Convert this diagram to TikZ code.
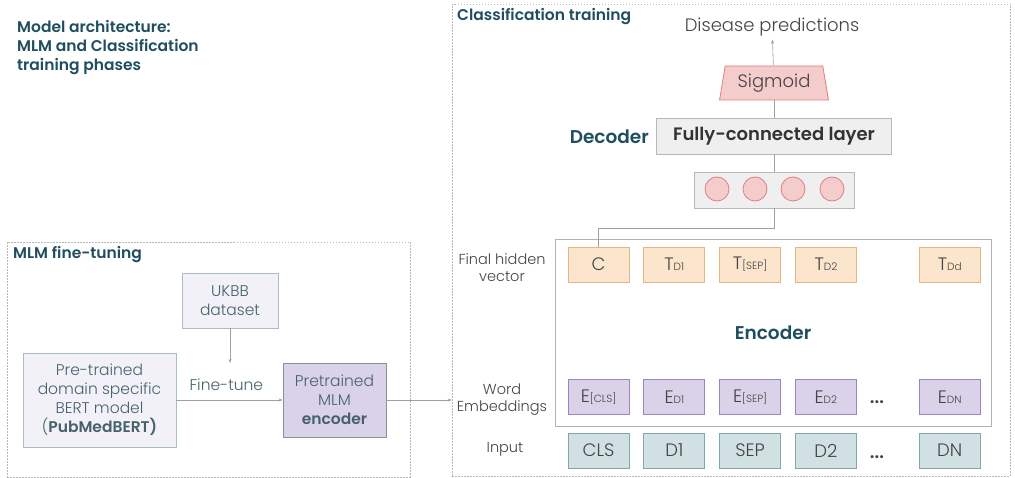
\documentclass[tikz,border=0pt]{standalone}
\usepackage{fontspec}
\setmainfont{Poppins}[UprightFont={Poppins Light}, BoldFont={Poppins SemiBold}]
\usetikzlibrary{arrows.meta, positioning, shapes.geometric}

\definecolor{titleteal}{HTML}{1F4E5F}
\definecolor{txtgray}{HTML}{434343}
\definecolor{slatetxt}{HTML}{46616C}
\definecolor{lavfill}{HTML}{F3F1F8}
\definecolor{lavdraw}{HTML}{A9BCC6}
\definecolor{encfill}{HTML}{D9D2E9}
\definecolor{encdraw}{HTML}{8E8E9C}
\definecolor{hidfill}{HTML}{FCE5CD}
\definecolor{hiddraw}{HTML}{E5B583}
\definecolor{embdraw}{HTML}{9A86C6}
\definecolor{inpfill}{HTML}{D0E0E3}
\definecolor{inpdraw}{HTML}{7FA8B0}
\definecolor{pinkfill}{HTML}{F4CCCC}
\definecolor{pinkdraw}{HTML}{E07F7F}
\definecolor{greyfill}{HTML}{EFEFEF}
\definecolor{greydraw}{HTML}{B7B7B7}

\newcommand{\fsz}[2]{\fontsize{#1}{#2}\selectfont}
\newcommand{\lowtag}[1]{{\fontsize{10.5}{10.5}\selectfont #1}}

\begin{document}
\begin{tikzpicture}[x=1pt, y=-1pt, >={Stealth[length=4pt, width=3pt]},
    every node/.style={text=txtgray},
    phase/.style={draw=gray!55, dash pattern=on 1.5pt off 1.5pt, line width=0.6pt, inner sep=0pt},
    link/.style={draw=gray!75, line width=0.6pt},
    heading/.style={font=\fsz{15.5}{19}\bfseries, text=titleteal, inner sep=0pt},
    plainbox/.style={draw=lavdraw, fill=lavfill, line width=0.8pt, align=center, text=slatetxt, inner sep=0pt},
    tokbox/.style={minimum width=61pt, minimum height=35pt, inner sep=0pt, line width=0.8pt, font=\fsz{18}{20}},
    hidtok/.style={tokbox, fill=hidfill, draw=hiddraw},
    embtok/.style={tokbox, fill=encfill, draw=embdraw},
    inptok/.style={tokbox, fill=inpfill, draw=inpdraw},
    unit/.style={circle, minimum size=24pt, inner sep=0pt, fill=pinkfill, draw=pinkdraw, line width=0.8pt},
    sidelabel/.style={align=center, font=\fsz{14.5}{17}}
]

    % canvas
    \useasboundingbox (0,0) rectangle (1015,478);

    % ==========================================
    % Title
    % ==========================================
    \node[heading, anchor=north west, align=left] (title) at (17,20)
        {Model architecture:\\MLM and Classification\\training phases};

    % ==========================================
    % PHASE 1: MLM fine-tuning
    % ==========================================
    \node[phase, minimum width=403pt, minimum height=235pt] (mlmphase) at (208.5,359.5) {};
    \node[heading, anchor=west] (mlmtitle) at (13,255) {MLM fine-tuning};

    \node[plainbox, minimum width=96pt, minimum height=55pt, font=\fsz{15.5}{19}] (ukbb) at (230,300.5) {UKBB\\dataset};
    \node[plainbox, minimum width=153pt, minimum height=94pt, font=\fsz{15.5}{19}] (bert) at (99.5,400)
        {Pre-trained\\domain specific\\BERT model\\(\textbf{PubMedBERT)}};
    \node[draw=encdraw, fill=encfill, line width=0.8pt, minimum width=103pt, minimum height=74pt,
        align=center, inner sep=0pt, text=slatetxt, font=\fsz{15.5}{19}] (mlmenc) at (334.5,400)
        {Pretrained\\MLM\\\textbf{encoder}};

    \coordinate (tunein) at (230,363);
    \draw[link, ->] (ukbb) -- (tunein);
    \draw[link, ->] (bert) -- (mlmenc) node[pos=0.47, above=6pt, font=\fsz{15.5}{19}, text=slatetxt] {Fine-tune};

    % ==========================================
    % PHASE 2: Classification training
    % ==========================================
    \node[phase, minimum width=558pt, minimum height=472pt] (clsphase) at (731,240) {};
    \node[heading, anchor=west] (clstitle) at (457,17) {Classification training};

    \draw[link, ->] (mlmenc) -- (mlmenc -| clsphase.west);

    % decoder head
    \node[font=\fsz{18}{21}] (pred) at (772,27) {Disease predictions};
    \node[trapezium, trapezium stretches=true, trapezium left angle=77, trapezium right angle=77,
        minimum width=109pt, minimum height=34pt, inner sep=0pt, fill=pinkfill, draw=pinkdraw,
        line width=0.8pt, font=\fsz{18}{20}] (sigmoid) at (774,83) {Sigmoid};
    \node[fill=greyfill, draw=greydraw, line width=0.8pt, minimum width=235pt, minimum height=36pt,
        inner sep=0pt, font=\fsz{18}{20}\bfseries, text=black!80] (fc) at (774,136) {Fully-connected layer};
    \node[font=\fsz{18.5}{21}\bfseries, text=titleteal, anchor=east, inner sep=0pt] (decoder) at (649,137) {Decoder};
    \node[fill=greyfill, draw=greydraw, line width=0.8pt, minimum width=160pt, minimum height=36pt,
        inner sep=0pt] (hidden) at (774,190) {};
    \node[unit] (u1) at (717,189) {};
    \node[unit] (u2) at (755,189) {};
    \node[unit] (u3) at (793,189) {};
    \node[unit] (u4) at (832,189) {};

    \draw[link, ->] (sigmoid) -- (pred);
    \draw[link] (fc) -- (sigmoid);
    \draw[link] (hidden) -- (fc);

    % encoder block
    \node[draw=gray!60, line width=0.8pt, minimum width=436pt, minimum height=187pt, inner sep=0pt] (encoder) at (773,332.5) {};
    \node[font=\fsz{18.5}{21}\bfseries, text=titleteal] (enclabel) at (773,333) {Encoder};

    % final hidden vectors
    \node[hidtok] (tc) at (598.5,264.5) {C};
    \node[hidtok, right=14pt of tc] (td1) {T\lowtag{D1}};
    \node[hidtok, right=14pt of td1] (tsep) {T\lowtag{[SEP]}};
    \node[hidtok, right=14pt of tsep] (td2) {T\lowtag{D2}};
    \node[hidtok, right=62pt of td2] (tdd) {T\lowtag{Dd}};

    % word embeddings
    \node[embtok] (ecls) at (598.5,397) {E\lowtag{[CLS]}};
    \node[embtok, right=14pt of ecls] (ed1) {E\lowtag{D1}};
    \node[embtok, right=14pt of ed1] (esep) {E\lowtag{[SEP]}};
    \node[embtok, right=14pt of esep] (ed2) {E\lowtag{D2}};
    \node[embtok, right=62pt of ed2] (edn) {E\lowtag{DN}};
    \node[font=\fsz{18}{20}\bfseries] (edots) at (877,402) {...};

    % input tokens
    \node[inptok] (icls) at (598.5,450.5) {CLS};
    \node[inptok, right=14pt of icls] (id1) {D1};
    \node[inptok, right=14pt of id1] (isep) {SEP};
    \node[inptok, right=14pt of isep] (id2) {D2};
    \node[inptok, right=62pt of id2] (idn) {DN};
    \node[font=\fsz{18}{20}\bfseries] (idots) at (877,457) {...};

    % row labels
    \node[sidelabel] (hidlabel) at (502,268) {Final hidden\\vector};
    \node[sidelabel] (emblabel) at (502,400) {Word\\Embeddings};
    \node[sidelabel] (inplabel) at (505,449) {Input};

    % CLS vector feeds the decoder
    \draw[link] (hidden.south) -- ++(0,20) -| (tc.north);

\end{tikzpicture}
\end{document}
